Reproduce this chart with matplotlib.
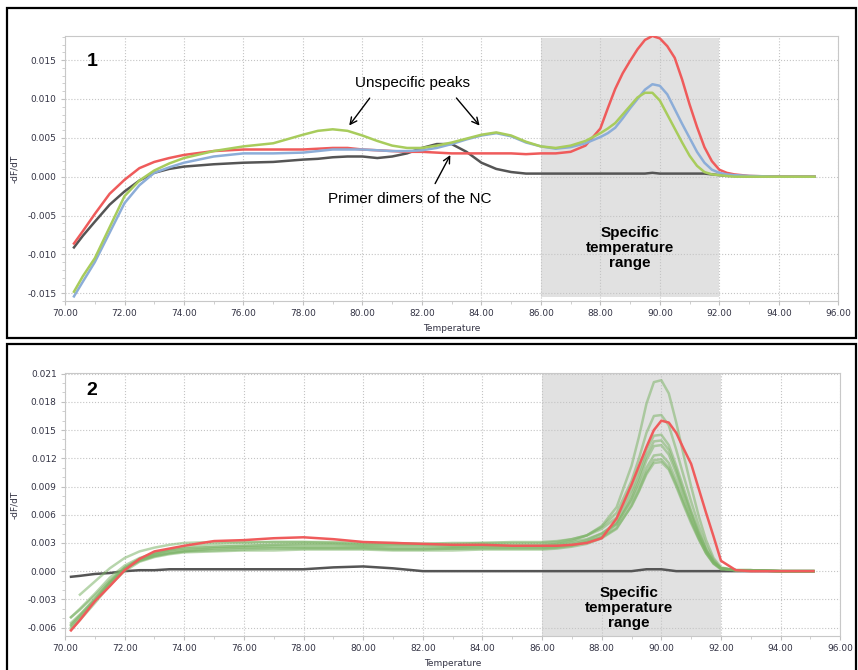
import numpy as np
import matplotlib.pyplot as plt
from matplotlib.patches import Rectangle
from matplotlib.ticker import MultipleLocator, FormatStrFormatter

# ---- panel 1 data ----
temp1 = [70.3, 70.6, 71.0, 71.5, 72.0, 72.5, 73.0, 73.5, 74.0, 75.0, 76.0, 77.0, 78.0, 78.5,
         79.0, 79.5, 80.0, 80.5, 81.0, 81.5, 82.0, 82.5, 83.0, 83.5, 84.0, 84.5, 85.0, 85.5,
         86.0, 86.5, 87.0, 87.5, 88.0, 88.25, 88.5, 88.75, 89.0, 89.25, 89.5, 89.75, 90.0,
         90.25, 90.5, 90.75, 91.0, 91.25, 91.5, 91.75, 92.0, 92.25, 92.5, 93.0, 94.0, 95.2]

red1 = [-0.0086, -0.0070, -0.0048, -0.0022, -0.0004, 0.0011, 0.0019, 0.0024, 0.0028, 0.0033,
        0.0035, 0.0035, 0.0035, 0.0036, 0.0037, 0.0037, 0.0035, 0.0034, 0.0033, 0.0032, 0.0032,
        0.0031, 0.0030, 0.0030, 0.0030, 0.0030, 0.0030, 0.0029, 0.0030, 0.0030, 0.0032, 0.0040,
        0.0062, 0.0088, 0.0113, 0.0133, 0.0149, 0.0164, 0.0176, 0.0181, 0.0178, 0.0168, 0.0153,
        0.0125, 0.0093, 0.0064, 0.0038, 0.0020, 0.0009, 0.0005, 0.0003, 0.0001, 0.0000, 0.0000]

blue1 = [-0.0154, -0.0135, -0.0110, -0.0072, -0.0034, -0.0011, 0.0005, 0.0012, 0.0018, 0.0026,
         0.0030, 0.0030, 0.0031, 0.0033, 0.0035, 0.0035, 0.0035, 0.0034, 0.0033, 0.0033, 0.0034,
         0.0037, 0.0042, 0.0048, 0.0053, 0.0056, 0.0052, 0.0044, 0.0039, 0.0036, 0.0038, 0.0043,
         0.0051, 0.0056, 0.0063, 0.0075, 0.0088, 0.0100, 0.0112, 0.0119, 0.0117, 0.0106, 0.0087,
         0.0068, 0.0050, 0.0032, 0.0018, 0.0009, 0.0005, 0.0003, 0.0002, 0.0001, 0.0000, 0.0000]

green1 = [-0.0148, -0.0128, -0.0105, -0.0065, -0.0025, -0.0005, 0.0008, 0.0017, 0.0024, 0.0033,
          0.0039, 0.0043, 0.0054, 0.0059, 0.0061, 0.0059, 0.0053, 0.0046, 0.0040, 0.0037, 0.0037,
          0.0040, 0.0044, 0.0049, 0.0054, 0.0057, 0.0053, 0.0045, 0.0039, 0.0037, 0.0040, 0.0046,
          0.0056, 0.0062, 0.0069, 0.0080, 0.0091, 0.0102, 0.0108, 0.0108, 0.0098, 0.0080, 0.0062,
          0.0044, 0.0027, 0.0014, 0.0006, 0.0003, 0.0002, 0.0001, 0.0000, 0.0000, 0.0000, 0.0000]

nc1 = [-0.0091, -0.0076, -0.0058, -0.0036, -0.0019, -0.0005, 0.0005, 0.0010, 0.0013, 0.0016,
       0.0018, 0.0019, 0.0022, 0.0023, 0.0025, 0.0026, 0.0026, 0.0024, 0.0026, 0.0030, 0.0037,
       0.0042, 0.0042, 0.0032, 0.0018, 0.0010, 0.0006, 0.0004, 0.0004, 0.0004, 0.0004, 0.0004,
       0.0004, 0.0004, 0.0004, 0.0004, 0.0004, 0.0004, 0.0004, 0.0005, 0.0004, 0.0004, 0.0004,
       0.0004, 0.0004, 0.0004, 0.0004, 0.0003, 0.0002, 0.0001, 0.0001, 0.0000, 0.0000, 0.0000]

# ---- panel 2 data ----
temp2 = [70.2, 70.5, 71.0, 71.5, 72.0, 72.5, 73.0, 73.5, 74.0, 75.0, 76.0, 77.0, 78.0, 79.0,
         80.0, 81.0, 82.0, 83.0, 84.0, 85.0, 86.0, 86.5, 87.0, 87.5, 88.0, 88.5, 89.0, 89.25,
         89.5, 89.75, 90.0, 90.25, 90.5, 90.75, 91.0, 91.25, 91.5, 91.75, 92.0, 92.5, 93.0,
         94.0, 95.1]

samples2 = [
    [-0.0049, -0.0040, -0.0024, -0.0007, 0.0006, 0.0014, 0.0019, 0.0022, 0.0024, 0.0026, 0.0027,
     0.0028, 0.0028, 0.0028, 0.0027, 0.0027, 0.0027, 0.0026, 0.0027, 0.0027, 0.0027, 0.0029,
     0.0032, 0.0038, 0.0048, 0.0068, 0.0112, 0.0143, 0.0178, 0.0201, 0.0203, 0.0189, 0.0158,
     0.0123, 0.0090, 0.0059, 0.0033, 0.0014, 0.0004, 0.0001, 0.0001, 0.0000, 0.0000],
    [-0.0057, -0.0047, -0.0029, -0.0011, 0.0004, 0.0013, 0.0019, 0.0023, 0.0026, 0.0029, 0.0030,
     0.0031, 0.0031, 0.0031, 0.0030, 0.0030, 0.0029, 0.0029, 0.0030, 0.0030, 0.0030, 0.0031,
     0.0034, 0.0038, 0.0047, 0.0062, 0.0096, 0.0120, 0.0147, 0.0165, 0.0166, 0.0155, 0.0129,
     0.0101, 0.0074, 0.0049, 0.0027, 0.0012, 0.0003, 0.0001, 0.0001, 0.0000, 0.0000],
    [np.nan, -0.0025, -0.0011, 0.0003, 0.0014, 0.0021, 0.0025, 0.0028, 0.0030, 0.0031, 0.0031,
     0.0031, 0.0031, 0.0030, 0.0029, 0.0029, 0.0029, 0.0030, 0.0030, 0.0031, 0.0031, 0.0032,
     0.0034, 0.0038, 0.0045, 0.0057, 0.0086, 0.0106, 0.0129, 0.0144, 0.0145, 0.0134, 0.0112,
     0.0088, 0.0064, 0.0042, 0.0023, 0.0010, 0.0003, 0.0001, 0.0001, 0.0000, 0.0000],
    [-0.0060, -0.0050, -0.0032, -0.0013, 0.0002, 0.0011, 0.0016, 0.0019, 0.0021, 0.0024, 0.0025,
     0.0026, 0.0026, 0.0026, 0.0026, 0.0025, 0.0025, 0.0025, 0.0026, 0.0026, 0.0026, 0.0027,
     0.0029, 0.0033, 0.0040, 0.0052, 0.0081, 0.0100, 0.0123, 0.0138, 0.0139, 0.0129, 0.0108,
     0.0084, 0.0062, 0.0041, 0.0022, 0.0010, 0.0003, 0.0001, 0.0001, 0.0000, 0.0000],
    [-0.0049, -0.0041, -0.0026, -0.0010, 0.0003, 0.0011, 0.0016, 0.0019, 0.0021, 0.0022, 0.0023,
     0.0024, 0.0024, 0.0024, 0.0024, 0.0023, 0.0023, 0.0024, 0.0024, 0.0024, 0.0024, 0.0025,
     0.0027, 0.0031, 0.0037, 0.0050, 0.0077, 0.0096, 0.0118, 0.0133, 0.0134, 0.0124, 0.0104,
     0.0081, 0.0059, 0.0039, 0.0022, 0.0009, 0.0003, 0.0001, 0.0001, 0.0000, 0.0000],
    [-0.0055, -0.0046, -0.0030, -0.0012, 0.0003, 0.0013, 0.0018, 0.0022, 0.0024, 0.0026, 0.0027,
     0.0028, 0.0029, 0.0029, 0.0028, 0.0028, 0.0028, 0.0027, 0.0028, 0.0028, 0.0028, 0.0029,
     0.0031, 0.0034, 0.0040, 0.0050, 0.0075, 0.0091, 0.0110, 0.0123, 0.0124, 0.0115, 0.0096,
     0.0075, 0.0055, 0.0036, 0.0020, 0.0009, 0.0003, 0.0001, 0.0001, 0.0000, 0.0000],
    [-0.0062, -0.0052, -0.0034, -0.0015, 0.0000, 0.0010, 0.0015, 0.0018, 0.0020, 0.0021, 0.0022,
     0.0022, 0.0023, 0.0023, 0.0023, 0.0022, 0.0022, 0.0022, 0.0023, 0.0023, 0.0023, 0.0024,
     0.0026, 0.0029, 0.0035, 0.0045, 0.0070, 0.0086, 0.0105, 0.0118, 0.0119, 0.0110, 0.0092,
     0.0072, 0.0053, 0.0035, 0.0019, 0.0008, 0.0002, 0.0001, 0.0001, 0.0000, 0.0000],
    [-0.0058, -0.0048, -0.0031, -0.0013, 0.0002, 0.0012, 0.0017, 0.0020, 0.0022, 0.0024, 0.0025,
     0.0025, 0.0025, 0.0025, 0.0025, 0.0024, 0.0024, 0.0024, 0.0025, 0.0025, 0.0025, 0.0026,
     0.0028, 0.0031, 0.0036, 0.0046, 0.0069, 0.0085, 0.0103, 0.0115, 0.0116, 0.0108, 0.0090,
     0.0070, 0.0051, 0.0034, 0.0019, 0.0008, 0.0002, 0.0001, 0.0001, 0.0000, 0.0000],
]

red2 = [-0.0063, -0.0052, -0.0032, -0.0016, 0.0001, 0.0013, 0.0021, 0.0024, 0.0027, 0.0032,
        0.0033, 0.0035, 0.0036, 0.0034, 0.0031, 0.0030, 0.0029, 0.0028, 0.0028, 0.0027, 0.0027,
        0.0027, 0.0028, 0.0030, 0.0035, 0.0056, 0.0092, 0.0112, 0.0132, 0.0150, 0.0160, 0.0158,
        0.0147, 0.0130, 0.0114, 0.0088, 0.0062, 0.0037, 0.0011, 0.0001, 0.0000, 0.0000, 0.0000]

nc2 = [-0.0006, -0.0005, -0.0003, -0.0002, 0.0000, 0.0001, 0.0001, 0.0002, 0.0002, 0.0002,
       0.0002, 0.0002, 0.0002, 0.0004, 0.0005, 0.0003, 0.0000, 0.0000, 0.0000, 0.0000, 0.0000,
       0.0000, 0.0000, 0.0000, 0.0000, 0.0000, 0.0000, 0.0001, 0.0002, 0.0002, 0.0002, 0.0001,
       0.0000, 0.0000, 0.0000, 0.0000, 0.0000, 0.0000, 0.0000, 0.0000, 0.0000, 0.0000, 0.0000]

C_RED = '#ef5b5b'
C_BLUE = '#8cadd8'
C_GREEN = '#a8cc5c'
C_NC = '#555555'
C_GREEN2 = '#7db468'

plt.rcParams['font.family'] = ['Liberation Sans', 'DejaVu Sans']

fig = plt.figure(figsize=(8.58, 6.70), dpi=100)
ax1 = fig.add_axes([0.0758, 0.5507, 0.9012, 0.3955])
ax2 = fig.add_axes([0.0758, 0.0507, 0.9035, 0.3930])


def style_axis(ax, ylim, ymajor, yminor):
    ax.set_xlim(70, 96)
    ax.set_ylim(*ylim)
    ax.xaxis.set_major_locator(MultipleLocator(2))
    ax.xaxis.set_minor_locator(MultipleLocator(1))
    ax.yaxis.set_major_locator(MultipleLocator(ymajor))
    ax.yaxis.set_minor_locator(MultipleLocator(yminor))
    ax.xaxis.set_major_formatter(FormatStrFormatter('%.2f'))
    ax.yaxis.set_major_formatter(FormatStrFormatter('%.3f'))
    ax.grid(True, which='major', color='#c4c4c4', linestyle=':', linewidth=0.8)
    ax.set_axisbelow(True)
    for s in ax.spines.values():
        s.set_color('#c8c8c8')
    ax.tick_params(which='major', length=3, color='#c0c0c0', labelsize=6.5,
                   labelcolor='#333344', pad=3)
    ax.tick_params(which='minor', length=2, color='#c8c8c8')
    for lab in ax.get_xticklabels() + ax.get_yticklabels():
        lab.set_family('DejaVu Sans')
    ax.set_xlabel('Temperature', fontsize=6.5, color='#333344', labelpad=4, family='DejaVu Sans')
    ax.set_ylabel('-dF/dT', fontsize=6.5, color='#333344', labelpad=6, family='DejaVu Sans')


# panel 1
ax1.axvspan(86, 92, ymin=0.015, ymax=0.993, color='#e1e1e1', zorder=0, lw=0)
style_axis(ax1, (-0.0160, 0.0181), 0.005, 0.001)
ax1.plot(temp1, nc1, color=C_NC, lw=1.8, zorder=2)
ax1.plot(temp1, red1, color=C_RED, lw=1.8, zorder=3)
ax1.plot(temp1, blue1, color=C_BLUE, lw=1.8, zorder=4)
ax1.plot(temp1, green1, color=C_GREEN, lw=1.8, zorder=5)

ax1.text(70.9, 0.0148, '1', fontsize=14, fontweight='bold', ha='center', va='center')
ax1.text(89.0, -0.0092, 'Specific\ntemperature\nrange', fontsize=11, fontweight='bold',
         ha='center', va='center', linespacing=1.1)
ax1.text(81.7, 0.0120, 'Unspecific peaks', fontsize=11, ha='center', va='center')
arrow = dict(arrowstyle='->', color='black', lw=1, mutation_scale=12)
ax1.annotate('', xy=(79.5, 0.0063), xytext=(80.3, 0.0104), arrowprops=arrow)
ax1.annotate('', xy=(84.0, 0.0063), xytext=(83.1, 0.0104), arrowprops=arrow)
ax1.text(81.6, -0.0029, 'Primer dimers of the NC', fontsize=11, ha='center', va='center')
ax1.annotate('', xy=(83.0, 0.0031), xytext=(82.4, -0.0012), arrowprops=arrow)

# panel 2
ax2.axvspan(86, 92, color='#e1e1e1', zorder=0, lw=0)
style_axis(ax2, (-0.0069, 0.0211), 0.003, 0.001)
ax2.plot(temp2, nc2, color=C_NC, lw=1.8, zorder=2)
for s in samples2:
    ax2.plot(temp2, s, color=C_GREEN2, lw=1.8, alpha=0.55, zorder=3)
ax2.plot(temp2, red2, color=C_RED, lw=1.8, zorder=4)

ax2.text(70.9, 0.0192, '2', fontsize=14, fontweight='bold', ha='center', va='center')
ax2.text(88.9, -0.0039, 'Specific\ntemperature\nrange', fontsize=11, fontweight='bold',
         ha='center', va='center', linespacing=1.1)

# outer frames around each panel
fig.add_artist(Rectangle((0.0082, 0.4955), 0.9895, 0.4925, transform=fig.transFigure,
                         fill=False, edgecolor='black', lw=1.6))
fig.add_artist(Rectangle((0.0082, -0.01), 0.9895, 0.4966, transform=fig.transFigure,
                         fill=False, edgecolor='black', lw=1.6))

fig.savefig('out.png', dpi=100)
